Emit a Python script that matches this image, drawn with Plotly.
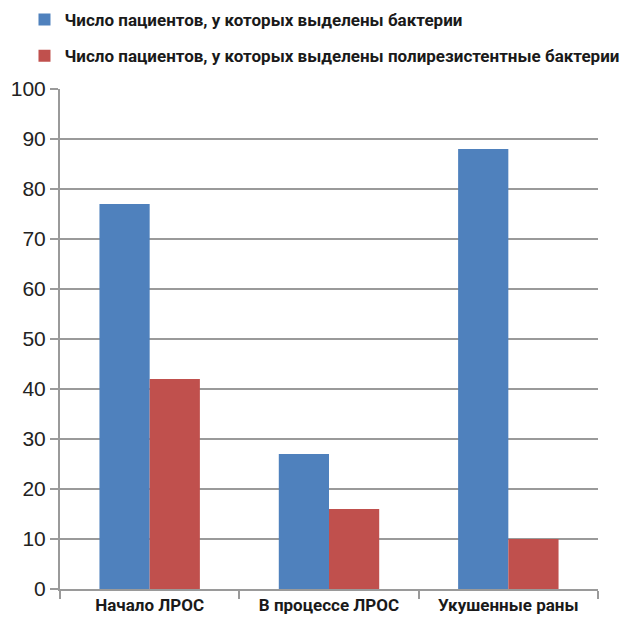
import plotly.graph_objects as go

categories = ["Начало ЛРОС", "В процессе ЛРОС", "Укушенные раны"]
bacteria = [77, 27, 88]
multiresistant = [42, 16, 10]
series_names = [
    "Число пациентов, у которых выделены бактерии",
    "Число пациентов, у которых выделены полирезистентные бактерии",
]
y_ticks = [0, 10, 20, 30, 40, 50, 60, 70, 80, 90, 100]

BLUE = "#4F81BD"
RED = "#C0504D"
GRID = "#9A9A9A"
NARROW = "Liberation Sans Narrow, Roboto, Arial Narrow, sans-serif"

fig = go.Figure()
fig.add_trace(go.Bar(
    x=categories, y=bacteria, name=series_names[0],
    marker=dict(color=BLUE, line=dict(width=0)),
    legendgroup="a",
))
fig.add_trace(go.Bar(
    x=categories, y=multiresistant, name=series_names[1],
    marker=dict(color=RED, line=dict(width=0)),
    legendgroup="b",
))

fig.update_layout(
    width=638, height=617,
    margin=dict(l=60, r=40, t=89, b=28, autoexpand=False),
    paper_bgcolor="white", plot_bgcolor="white",
    barmode="group", bargap=0.44, bargroupgap=0,
    showlegend=True,
    legend=dict(
        x=-0.066, y=1.174, xanchor="left", yanchor="top",
        orientation="v", traceorder="grouped", tracegroupgap=11,
        font=dict(family=NARROW, size=17, color="#1a1a1a", weight="bold"),
        itemwidth=30, bgcolor="rgba(0,0,0,0)",
    ),
    xaxis=dict(
        type="category", tickson="boundaries", ticks="outside",
        ticklen=8, tickwidth=2, tickcolor=GRID,
        showline=True, linecolor=GRID, linewidth=2,
        showgrid=False,
        tickfont=dict(family=NARROW, size=17, color="#1a1a1a", weight="bold"),
    ),
    yaxis=dict(
        range=[0, 100], tickvals=y_ticks, ticks="outside",
        ticklen=8, tickwidth=2, tickcolor=GRID,
        showline=True, linecolor=GRID, linewidth=2,
        showgrid=True, gridcolor=GRID, gridwidth=2,
        zeroline=False,
        tickfont=dict(family="Liberation Sans, Arial, sans-serif", size=21, color="#222222"),
    ),
)

fig.write_html("out.html")
